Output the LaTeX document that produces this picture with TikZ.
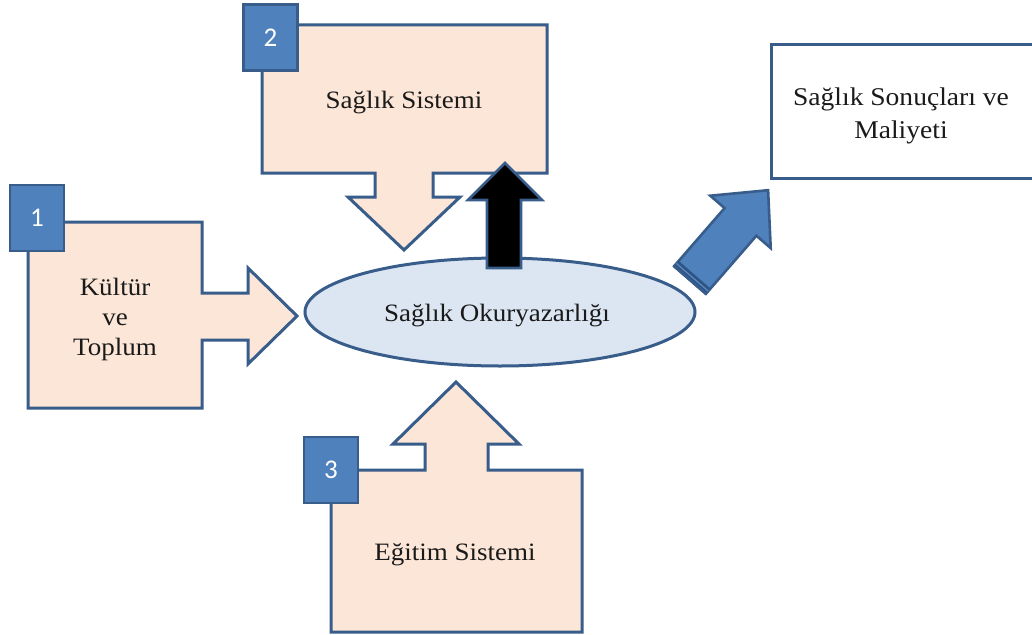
\documentclass[tikz,border=0pt]{standalone}
\usepackage{fontspec}
\setmainfont{Liberation Serif}[FakeStretch=1.08]
\newfontfamily\numfont{Carlito}
\usetikzlibrary{shapes.geometric}
\definecolor{edge}{HTML}{385D8A}
\definecolor{peach}{HTML}{FCE6D8}
\definecolor{numblue}{HTML}{4F81BD}
\definecolor{ovalfill}{HTML}{DCE6F2}
\definecolor{bandblue}{HTML}{2F5585}
\definecolor{bandlight}{HTML}{5A8AC4}
\definecolor{textcol}{HTML}{1A1A1A}
\begin{document}
\begin{tikzpicture}[x=1pt,y=-1pt,
  shapeline/.style={draw=edge, line width=3pt, line join=miter},
  callout/.style={shapeline, fill=peach},
  numbox/.style={draw=edge, line width=2.6pt, fill=numblue, text=white,
    font=\numfont\fontsize{27}{27}\selectfont, minimum width=54pt,
    minimum height=66pt, inner sep=0pt},
  lbl/.style={font=\fontsize{25}{30}\selectfont, align=center, inner sep=0pt, text=textcol},
  oval/.style={ellipse, draw=edge, line width=3pt, fill=ovalfill,
    minimum width=390pt, minimum height=108pt, inner sep=0pt}]
\useasboundingbox (0,0) rectangle (1032,634);
\fill[white] (0,0) rectangle (1032,634);
\clip (0,0) rectangle (1032,634);

% callout 2 (Saglik Sistemi)
\draw[callout] (262,25) -- (547,25) -- (547,173) -- (433,173) -- (433,197) -- (460,197)
  -- (404,250) -- (348,197) -- (375,197) -- (375,173) -- (262,173) -- cycle;
\node[lbl, anchor=base] (sist) at (404,108) {Sağlık Sistemi};

% callout 1 (Kultur ve Toplum)
\draw[callout] (28,222) -- (202,222) -- (202,293) -- (248,293) -- (248,268) -- (297,316)
  -- (248,364) -- (248,340) -- (202,340) -- (202,408) -- (28,408) -- cycle;
\node[lbl] (kultur) at (115,319) {Kültür\\ve\\Toplum};

% callout 3 (Egitim Sistemi)
\draw[callout] (331,632) -- (331,470) -- (425,470) -- (425,444) -- (393,444) -- (456,382)
  -- (519,444) -- (488,444) -- (488,470) -- (582,470) -- (582,632) -- cycle;
\node[lbl, anchor=base] (egitim) at (455,560) {Eğitim Sistemi};

% central ellipse
\node[oval] (lit) at (500,312) {};
\node[lbl, anchor=base] (littext) at (497,321) {Sağlık Okuryazarlığı};

% black arrow from ellipse up into Saglik Sistemi
\draw[draw=edge, line width=2.6pt, fill=black, line join=miter]
  (487,268) -- (487,200) -- (468,200) -- (505,163) -- (542,200) -- (521,200) -- (521,268) -- cycle;

% outcome box
\node[draw=edge, line width=3pt, fill=white, minimum width=262pt, minimum height=133pt,
  inner sep=0pt] (out) at (902,111.5) {};
\node[lbl, font=\fontsize{25.5}{33}\selectfont] (outtext) at (901,116) {Sağlık Sonuçları ve\\Maliyeti};

% blue arrow from ellipse to outcome box
\draw[draw=edge, line width=2.6pt, fill=numblue, line join=miter]
  (674.1,266.2) -- (724.6,208.1) -- (710.3,195.7) -- (768.1,190.2) -- (770.7,248.1)
  -- (756.4,235.7) -- (705.9,293.8) -- cycle;
\fill[bandblue] (674.1,266.2) -- (705.9,293.8) -- (710.5,288.5) -- (678.7,260.9) -- cycle;
\draw[bandlight, line width=1.2pt] (676.4,263.5) -- (708.2,291.1);
\draw[draw=edge, line width=2.6pt, line join=miter]
  (674.1,266.2) -- (705.9,293.8);

% number boxes
\node[numbox] (n1) at (37,218) {1};
\node[numbox] (n2) at (270.5,37.5) {2};
\node[numbox] (n3) at (331,470) {3};
\end{tikzpicture}
\end{document}
